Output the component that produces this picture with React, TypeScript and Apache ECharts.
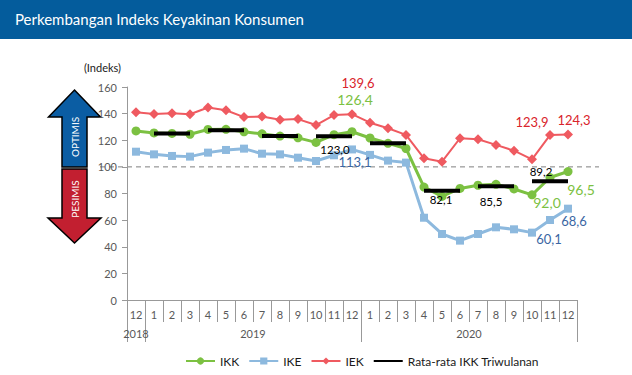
import { useEffect, useRef } from 'react';
import * as echarts from 'echarts';

const categories = [
  '2018-12',
  '2019-1', '2019-2', '2019-3', '2019-4', '2019-5', '2019-6', '2019-7', '2019-8', '2019-9', '2019-10', '2019-11', '2019-12',
  '2020-1', '2020-2', '2020-3', '2020-4', '2020-5', '2020-6', '2020-7', '2020-8', '2020-9', '2020-10', '2020-11', '2020-12',
];
const ikk = [127.0, 125.5, 125.1, 124.5, 128.1, 128.2, 126.4, 124.8, 123.1, 121.8, 118.4, 124.2, 126.4, 121.7, 117.7, 113.8, 84.8, 77.8, 83.8, 86.2, 86.9, 83.4, 79.0, 92.0, 96.5];
const ike = [111.4, 109.4, 108.2, 107.7, 110.7, 112.7, 113.7, 109.9, 109.4, 106.9, 104.4, 108.7, 113.1, 109.0, 104.7, 103.2, 61.8, 49.6, 44.6, 49.6, 54.6, 53.1, 50.6, 60.1, 68.6];
const iek = [141.1, 139.7, 140.3, 139.5, 144.6, 142.5, 137.4, 137.9, 135.4, 135.9, 131.4, 138.9, 139.6, 133.2, 129.0, 124.0, 106.4, 103.9, 121.5, 120.7, 116.5, 112.2, 105.7, 123.9, 124.3];
const quarterStart = [1, 4, 7, 10, 13, 16, 19, 22];
const quarterAvg = [125.0, 127.6, 123.2, 123.0, 117.7, 82.1, 85.5, 89.2];
const yearTickIdx = [0, 1, 13];
const yearLabelIdx = [0, 6, 18];

const FONT = 'Lato, "Open Sans", sans-serif';
const fmt = (v: number) => v.toFixed(1).replace('.', ',');

type LabelCfg = Record<number, [number, number]>;

function withLabels(values: (number | null)[], cfg: LabelCfg, color: string, fontSize: number) {
  return values.map((v, i) => {
    if (v == null || !cfg[i]) return v;
    return {
      value: v,
      label: {
        show: true,
        position: 'inside',
        offset: cfg[i],
        formatter: () => fmt(v),
        color,
        fontSize,
        fontFamily: FONT,
      },
    };
  });
}

const ikkLabels: LabelCfg = { 12: [3, -32], 23: [-3, 25], 24: [13, 18] };
const ikeLabels: LabelCfg = { 12: [3, 13], 23: [-1, 19], 24: [6, 12] };
const iekLabels: LabelCfg = { 12: [6, -31], 23: [-18, -13], 24: [6, -15] };
const quarterLabels: Record<number, [number, number]> = { 3: [1, 13], 5: [-1, 9], 6: [-5, 15], 7: [-9, -10] };

export default function App() {
  const ref = useRef<HTMLDivElement>(null);
  useEffect(() => {
    document.body.style.margin = '0';
    const chart = echarts.init(ref.current!, null, { renderer: 'svg' });

    const quarterSeries = quarterStart.map((s, q) => {
      const data: any[] = categories.map(() => null);
      for (let k = 0; k < 3; k++) data[s + k] = quarterAvg[q];
      if (quarterLabels[q]) {
        const v = quarterAvg[q];
        data[s + 1] = {
          value: v,
          symbol: 'circle',
          symbolSize: 1,
          label: {
            show: true,
            position: 'inside',
            offset: quarterLabels[q],
            formatter: () => fmt(v),
            color: '#000',
            fontSize: 11.5,
            fontFamily: FONT,
          },
        };
      }
      return {
        name: 'Rata-rata IKK Triwulanan',
        type: 'line',
        data,
        symbol: 'none',
        color: '#000',
        lineStyle: { width: 4, color: '#000' },
        itemStyle: { color: '#000' },
        z: 5,
        silent: true,
      };
    });

    const staticGraphics: any[] = [
      { type: 'rect', x: 0, y: 0, shape: { width: 632, height: 39 }, style: { fill: '#045C9C' }, silent: true },
      {
        type: 'text', x: 15, y: 19,
        style: { text: 'Perkembangan Indeks Keyakinan Konsumen', fill: '#fff', fontSize: 15, fontFamily: FONT, verticalAlign: 'middle' },
      },
      {
        type: 'polygon',
        shape: { points: [[74.5, 90], [100.5, 117], [87, 117], [87, 167], [62, 167], [62, 117], [48.5, 117]] },
        style: { fill: '#0B5DA3', stroke: '#000', lineWidth: 1.5 },
      },
      {
        type: 'polygon',
        shape: { points: [[62, 169], [87, 169], [87, 218], [101, 218], [74.5, 243], [48, 218], [62, 218]] },
        style: { fill: '#C21F30', stroke: '#000', lineWidth: 1.5 },
      },
      {
        type: 'text', x: 75, y: 137, rotation: Math.PI / 2,
        style: { text: 'OPTIMIS', fill: '#fff', fontSize: 10, fontFamily: FONT, align: 'center', verticalAlign: 'middle' },
      },
      {
        type: 'text', x: 75, y: 199, rotation: Math.PI / 2,
        style: { text: 'PESIMIS', fill: '#fff', fontSize: 10, fontFamily: FONT, align: 'center', verticalAlign: 'middle' },
      },
    ];

    chart.setOption({
      animation: false,
      backgroundColor: '#fff',
      textStyle: { fontFamily: FONT },
      grid: { left: 127, right: 55, top: 87, bottom: 75, outerBoundsMode: 'none' },
      legend: {
        left: 180,
        top: 350,
        itemWidth: 29,
        itemHeight: 9,
        itemGap: 9,
        data: [
          'IKK',
          'IKE',
          'IEK',
          { name: 'Rata-rata IKK Triwulanan', itemStyle: { opacity: 0 } },
        ],
        textStyle: { fontSize: 12, color: '#1a1a1a', fontFamily: FONT },
      },
      xAxis: [
        {
          type: 'category',
          data: categories,
          boundaryGap: true,
          axisLine: { lineStyle: { color: '#999' } },
          axisTick: { show: true, interval: 0, length: 22, lineStyle: { color: '#999' } },
          axisLabel: {
            interval: 0,
            margin: 9,
            color: '#595959',
            fontSize: 11,
            fontFamily: FONT,
            formatter: (v: string) => v.split('-')[1],
          },
        },
        {
          type: 'category',
          data: categories.map((c, i) => (i === 6 || i === 18 ? { value: c, textStyle: { padding: [0, 0, 0, 18] } } : c)),
          position: 'bottom',
          boundaryGap: true,
          axisLine: { show: false },
          axisTick: { show: true, length: 42, interval: (i: number) => yearTickIdx.includes(i), lineStyle: { color: '#999' } },
          axisLabel: {
            interval: (i: number) => yearLabelIdx.includes(i),
            margin: 28,
            color: '#595959',
            fontSize: 11,
            fontFamily: FONT,
            formatter: (v: string) => v.split('-')[0],
          },
        },
      ],
      yAxis: {
        type: 'value',
        min: 0,
        max: 160,
        interval: 20,
        name: '(Indeks)',
        nameLocation: 'end',
        nameGap: 14,
        nameTextStyle: { color: '#1a1a1a', fontSize: 11, fontFamily: FONT, align: 'right', padding: [0, 6, 0, 0] },
        axisLine: { show: true, lineStyle: { color: '#999' } },
        axisTick: { show: true, length: 5, lineStyle: { color: '#999' } },
        splitLine: { show: false },
        axisLabel: { color: '#595959', fontSize: 11, margin: 10, fontFamily: FONT },
      },
      series: [
        {
          name: 'IKK', type: 'line', data: withLabels(ikk, ikkLabels, '#7CC142', 14),
          symbol: 'circle', symbolSize: 9, color: '#7CC142',
          lineStyle: { width: 3, color: '#7CC142' }, itemStyle: { color: '#7CC142' }, z: 3,
        },
        {
          name: 'IKE', type: 'line', data: withLabels(ike, ikeLabels, '#3A66A3', 13),
          symbol: 'rect', symbolSize: 8, color: '#8DB9DE',
          lineStyle: { width: 3, color: '#8DB9DE' }, itemStyle: { color: '#8DB9DE' }, z: 2,
        },
        {
          name: 'IEK', type: 'line', data: withLabels(iek, iekLabels, '#D9242C', 13),
          symbol: 'diamond', symbolSize: 10, color: '#EF5A60',
          lineStyle: { width: 2, color: '#EF5A60' }, itemStyle: { color: '#EF5A60' }, z: 2,
        },
        ...quarterSeries,
      ],
      graphic: staticGraphics,
    });

    const y100 = chart.convertToPixel({ yAxisIndex: 0 }, 100) as number;
    chart.setOption(
      {
        graphic: [
          ...staticGraphics,
          {
            type: 'line',
            shape: { x1: 100, y1: y100, x2: 599, y2: y100 },
            style: { stroke: '#7f7f7f', lineWidth: 1, lineDash: [5, 4] },
            silent: true,
          },
        ],
      },
      { replaceMerge: ['graphic'] }
    );

    return () => chart.dispose();
  }, []);
  return <div ref={ref} style={{ width: 632, height: 375 }} />;
}
